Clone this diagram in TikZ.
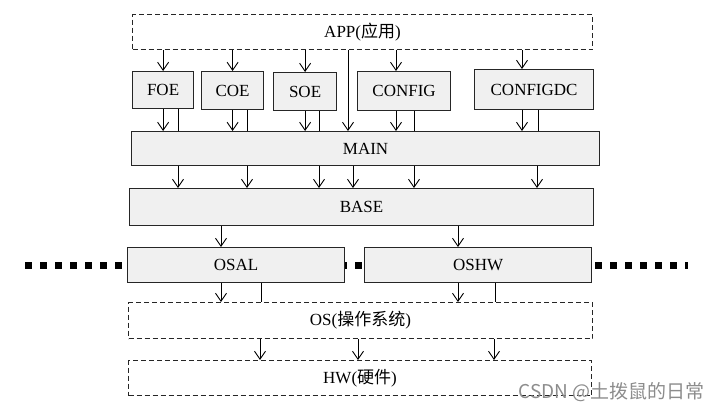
\documentclass[tikz,border=0pt]{standalone}
\usepackage{fontspec}
\setmainfont{Liberation Serif}
\newfontfamily\cjk{Noto Sans CJK SC}
\usetikzlibrary{arrows.meta}
\begin{document}
\begin{tikzpicture}[x=1pt,y=-1pt,
  solidbox/.style={draw=black!85,line width=1.2pt,fill=black!6,inner sep=0pt,anchor=north west,font=\fontsize{17}{20}\selectfont},
  dashbox/.style={draw=black!85,line width=1pt,dash pattern=on 5pt off 3pt,inner sep=0pt,anchor=north west,font=\fontsize{17}{20}\selectfont},
  arr/.style={-{Straight Barb[length=8pt,width=11pt]},line width=0.9pt},
  ln/.style={line width=0.9pt},
  dotline/.style={line width=7pt,dash pattern=on 7pt off 8pt}]
\useasboundingbox (0,0) rectangle (713,410);
% dotted separator behind the boxes
\coordinate (dl) at (25,265);
\coordinate (dr) at (688,265);
\draw[dotline] (dl) -- (dr);
% x positions
\foreach \x in {178,221,247,260,261,319,348,353,358,396,414,458,494,495,522,537,538}
  \coordinate (x\x) at (\x,0);
% boxes
\node[dashbox,minimum width=460pt,minimum height=35pt] (app) at (132,14) {APP({\cjk 应用})};
\node[solidbox,minimum width=61pt,minimum height=37pt] (foe) at (132,71) {FOE};
\node[solidbox,minimum width=62pt,minimum height=38pt] (coe) at (201,71) {COE};
\node[solidbox,minimum width=63pt,minimum height=38pt] (soe) at (273,72) {SOE};
\node[solidbox,minimum width=93pt,minimum height=39pt] (config) at (357,71) {CONFIG};
\node[solidbox,minimum width=119pt,minimum height=40pt] (configdc) at (474,69) {CONFIGDC};
\node[solidbox,minimum width=468pt,minimum height=34pt] (main) at (131,131) {MAIN};
\node[solidbox,minimum width=464pt,minimum height=37pt] (base) at (129,188) {BASE};
\node[solidbox,minimum width=217pt,minimum height=35pt] (osal) at (127,247) {OSAL};
\node[solidbox,minimum width=227pt,minimum height=35pt] (oshw) at (364,247) {OSHW};
\node[dashbox,minimum width=464pt,minimum height=36pt] (os) at (128,302) {OS({\cjk 操作系统})};
\node[dashbox,minimum width=463pt,minimum height=35pt] (hw) at (128,360) {HW({\cjk 硬件})};
% APP to modules
\draw[arr] (app.south -| foe.north) -- (foe.north);
\draw[arr] (app.south -| coe.north) -- (coe.north);
\draw[arr] (app.south -| soe.north) -- (soe.north);
\draw[arr] (app.south -| x396) -- (config.north -| x396);
\draw[arr] (app.south -| x522) -- (configdc.north -| x522);
\draw[arr] (app.south -| x348) -- (main.north -| x348);
% modules to MAIN
\draw[arr] (foe.south) -- (main.north -| foe.south);
\draw[ln] (foe.south -| x178) -- (main.north -| x178);
\draw[arr] (coe.south) -- (main.north -| coe.south);
\draw[ln] (coe.south -| x247) -- (main.north -| x247);
\draw[arr] (soe.south) -- (main.north -| soe.south);
\draw[ln] (soe.south -| x319) -- (main.north -| x319);
\draw[arr] (config.south -| x396) -- (main.north -| x396);
\draw[ln] (config.south -| x414) -- (main.north -| x414);
\draw[arr] (configdc.south -| x522) -- (main.north -| x522);
\draw[ln] (configdc.south -| x538) -- (main.north -| x538);
% MAIN to BASE
\foreach \x in {178,247,319,353,414,537}
  \draw[arr] (main.south -| x\x) -- (base.north -| x\x);
% BASE to OSAL / OSHW
\draw[arr] (base.south -| x221) -- (osal.north -| x221);
\draw[arr] (base.south -| x458) -- (oshw.north -| x458);
% OSAL / OSHW to OS
\draw[arr] (osal.south -| x221) -- (os.north -| x221);
\draw[ln] (osal.south -| x261) -- (os.north -| x261);
\draw[arr] (oshw.south -| x458) -- (os.north -| x458);
\draw[ln] (oshw.south -| x495) -- (os.north -| x495);
% OS to HW
\draw[arr] (os.south -| x260) -- (hw.north -| x260);
\draw[arr] (os.south -| x358) -- (hw.north -| x358);
\draw[arr] (os.south -| x494) -- (hw.north -| x494);
% watermark
\node[text=black!45,font=\cjk\fontsize{19}{22}\selectfont,anchor=east,inner sep=0pt] (wm) at (705,392) {CSDN @土拨鼠的日常};
\end{tikzpicture}
\end{document}
